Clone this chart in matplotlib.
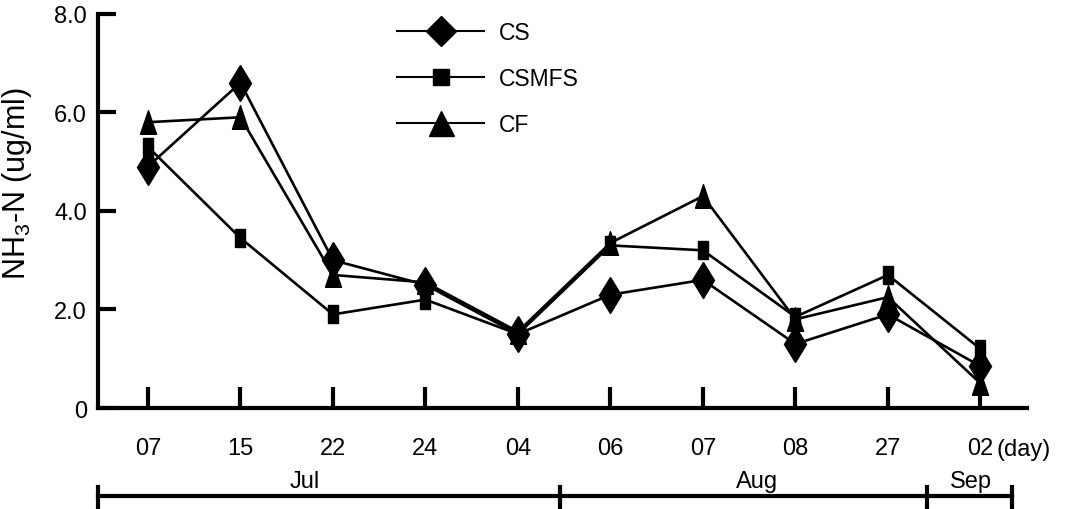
import matplotlib

matplotlib.use("Agg")
import matplotlib.pyplot as plt
from matplotlib.lines import Line2D
from matplotlib.transforms import blended_transform_factory

plt.rcParams["font.family"] = ["Liberation Sans", "DejaVu Sans"]
plt.rcParams["mathtext.fontset"] = "custom"
plt.rcParams["mathtext.rm"] = "Liberation Sans"
plt.rcParams["mathtext.it"] = "Liberation Sans"

# sampling days and NH3-N readings per treatment
days = ["07", "15", "22", "24", "04", "06", "07", "08", "27", "02"]
cs = [4.9, 6.6, 3.0, 2.5, 1.5, 2.3, 2.6, 1.3, 1.9, 0.85]
csmfs = [5.3, 3.45, 1.9, 2.2, 1.5, 3.3, 3.2, 1.85, 2.7, 1.2]
cf = [5.8, 5.9, 2.7, 2.55, 1.55, 3.35, 4.3, 1.8, 2.25, 0.5]

months = ["Jul", "Aug", "Sep"]
month_edges = [-0.54, 4.45, 8.42, 9.34]
month_label_x = [1.7, 6.58, 8.9]

yticks = [0, 2, 4, 6, 8]
ytick_labels = ["0", "2.0", "4.0", "6.0", "8.0"]

# tall marker shapes used on the data points
tall_square = [(-0.3, -0.5), (0.3, -0.5), (0.3, 0.5), (-0.3, 0.5), (-0.3, -0.5)]
tall_triangle = [(-0.34, -0.5), (0.34, -0.5), (0.0, 0.5), (-0.34, -0.5)]

fig = plt.figure(figsize=(10.65, 5.1), dpi=100)
ax = fig.add_axes([0.092, 0.198, 0.872, 0.773])

x = list(range(len(days)))
ax.plot(x, cs, color="black", lw=1.9, marker="d", markersize=18)
ax.plot(x, csmfs, color="black", lw=1.9, marker=tall_square, markersize=13)
ax.plot(x, cf, color="black", lw=1.9, marker=tall_triangle, markersize=17)

ax.set_xlim(-0.54, 9.5)
ax.set_ylim(0, 8.0)
ax.set_xticks(x)
ax.set_xticklabels(days, fontsize=17)
ax.set_yticks(yticks)
ax.set_yticklabels(ytick_labels, fontsize=17)
ax.tick_params(axis="x", direction="in", length=15, width=3, pad=21)
ax.tick_params(axis="y", direction="in", length=13, width=3, pad=8)

for side in ["top", "right"]:
    ax.spines[side].set_visible(False)
for side in ["left", "bottom"]:
    ax.spines[side].set_linewidth(3)

ax.set_ylabel("NH$_3$-N (ug/ml)", fontsize=22)
ax.yaxis.set_label_coords(-0.069, 0.571)

trans = blended_transform_factory(ax.transData, ax.transAxes)
ax.text(9.17, -0.103, "(day)", transform=trans,
        fontsize=17, ha="left", va="center", clip_on=False)

# month bar below the day labels
ax.plot([month_edges[0], month_edges[-1]], [-0.223, -0.223], color="black", lw=3,
        transform=trans, clip_on=False)
for edge in month_edges:
    ax.plot([edge, edge], [-0.2, -0.25], color="black", lw=3, transform=trans, clip_on=False)
for name, pos in zip(months, month_label_x):
    ax.text(pos, -0.186, name, transform=trans, fontsize=17, ha="center", va="center")

handles = [
    Line2D([], [], color="black", lw=1.5, marker="D", markersize=15),
    Line2D([], [], color="black", lw=1.5, marker="s", markersize=11),
    Line2D([], [], color="black", lw=1.5, marker="^", markersize=18),
]
ax.legend(handles, ["CS", "CSMFS", "CF"], loc="upper left", bbox_to_anchor=(0.322, 0.982),
          frameon=False, fontsize=16.5, handlelength=3.8, handletextpad=0.65,
          labelspacing=1.0, borderpad=0, borderaxespad=0)

fig.savefig("out.png", dpi=100)
